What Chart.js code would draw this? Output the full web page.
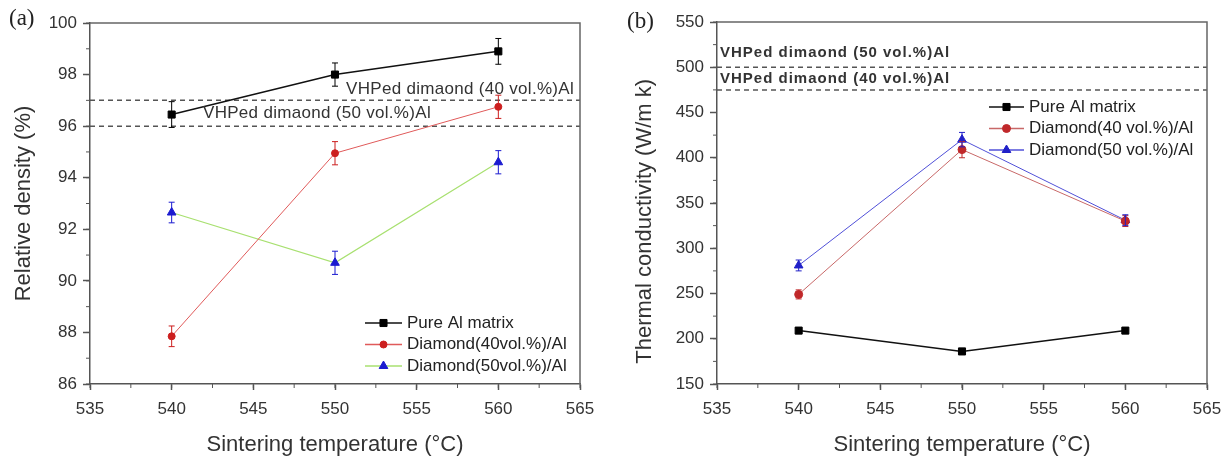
<!DOCTYPE html>
<html>
<head>
<meta charset="utf-8">
<script src="https://cdn.jsdelivr.net/npm/chart.js@4.4.1/dist/chart.umd.min.js"></script>
<style>
    html, body { margin: 0; padding: 0; background: #fff; }
    #contenedor { position: relative; width: 1224px; height: 458px; overflow: hidden; }
    .panel { position: absolute; top: 0; width: 612px; height: 458px; }
    .etiqueta { position: absolute; font-family: "Liberation Serif", "DejaVu Serif", serif; font-size: 23px; color: #222; }
</style>
</head>
<body>
<div id="contenedor">
    <div class="panel" style="left:0"><canvas id="grafica-a" width="612" height="458"></canvas></div>
    <div class="panel" style="left:612px"><canvas id="grafica-b" width="612" height="458"></canvas></div>
    <div class="etiqueta" style="left:9px;top:5px">(a)</div>
    <div class="etiqueta" style="left:627px;top:8px">(b)</div>
</div>
<script>
// temperaturas de sinterizado (°C)
const temperaturas = [540, 550, 560];

// (a) densidad relativa (%)
const densidadPuro = [96.45, 98.0, 98.9];
const densidadPuroErr = [0.5, 0.45, 0.5];
const densidad40 = [87.85, 94.95, 96.75];
const densidad40Err = [0.4, 0.45, 0.45];
const densidad50 = [92.65, 90.7, 94.6];
const densidad50Err = [0.4, 0.45, 0.45];
const refDensidad = [97, 96];
const refDensidadTxt = ['VHPed dimaond (40 vol.%)Al', 'VHPed dimaond (50 vol.%)Al'];
const nombresA = ['Pure Al matrix', 'Diamond(40vol.%)/Al', 'Diamond(50vol.%)/Al'];

// (b) conductividad termica (W/m k)
const conductPuro = [209, 186, 209];
const conductPuroErr = [3, 3, 3];
const conduct40 = [249, 409, 330];
const conduct40Err = [5, 9, 6];
const conduct50 = [281, 420, 331];
const conduct50Err = [6, 8, 6];
const refConduct = [500, 475];
const refConductTxt = ['VHPed dimaond (50 vol.%)Al', 'VHPed dimaond (40 vol.%)Al'];
const nombresB = ['Pure Al matrix', 'Diamond(40 vol.%)/Al', 'Diamond(50 vol.%)/Al'];

Chart.defaults.font.family = '"Liberation Sans", Arial, sans-serif';
Chart.defaults.color = '#333';

const puntos = (vals) => temperaturas.map((t, i) => ({ x: t, y: vals[i] }));

// errores, lineas de referencia, marco, ticks menores y leyenda
const extras = {
    id: 'extras',
    afterDatasetsDraw(chart, args, opts) {
        const ctx = chart.ctx;
        const x = chart.scales.x, y = chart.scales.y;
        const area = chart.chartArea;
        ctx.save();

        // barras de error
        opts.errores.forEach((errs, d) => {
            const ds = chart.data.datasets[d];
            ctx.strokeStyle = ds.pointBorderColor;
            ctx.lineWidth = 1;
            ds.data.forEach((p, i) => {
                const px = x.getPixelForValue(p.x);
                const y1 = y.getPixelForValue(p.y + errs[i]);
                const y2 = y.getPixelForValue(p.y - errs[i]);
                ctx.beginPath();
                ctx.moveTo(px, y1); ctx.lineTo(px, y2);
                ctx.moveTo(px - 3, y1); ctx.lineTo(px + 3, y1);
                ctx.moveTo(px - 3, y2); ctx.lineTo(px + 3, y2);
                ctx.stroke();
            });
        });

        // textos de referencia
        ctx.fillStyle = '#333';
        ctx.textBaseline = 'middle';
        ctx.font = opts.refFuente;
        if ('letterSpacing' in ctx) ctx.letterSpacing = opts.refEspacio;
        opts.refs.forEach((r) => {
            ctx.textAlign = r.align;
            ctx.fillText(r.txt, r.px, y.getPixelForValue(r.v) + r.dy);
        });
        if ('letterSpacing' in ctx) ctx.letterSpacing = '0px';

        // marco
        ctx.strokeStyle = '#666';
        ctx.lineWidth = 1.5;
        ctx.beginPath();
        ctx.moveTo(area.left, area.top); ctx.lineTo(area.right, area.top); ctx.lineTo(area.right, area.bottom);
        ctx.stroke();

        // ticks menores
        ctx.lineWidth = 1;
        ctx.strokeStyle = '#555';
        ctx.beginPath();
        for (let v = x.min; v <= x.max; v += opts.menorX) {
            const px = x.getPixelForValue(v);
            ctx.moveTo(px, area.bottom); ctx.lineTo(px, area.bottom + 4);
        }
        for (let v = y.min; v <= y.max; v += opts.menorY) {
            const py = y.getPixelForValue(v);
            ctx.moveTo(area.left, py); ctx.lineTo(area.left - 4, py);
        }
        ctx.stroke();

        // leyenda
        const ley = opts.leyenda;
        ctx.font = '17px "Liberation Sans", Arial, sans-serif';
        ctx.textAlign = 'left';
        ley.indices.forEach((d, i) => {
            const ds = chart.data.datasets[d];
            const py = ley.y + i * ley.dy;
            ctx.strokeStyle = ds.borderColor;
            ctx.lineWidth = 1.5;
            ctx.beginPath();
            ctx.moveTo(ley.x, py); ctx.lineTo(ley.x + ley.ancho, py);
            ctx.stroke();
            ctx.fillStyle = ds.pointBackgroundColor;
            ctx.strokeStyle = ds.pointBorderColor;
            ctx.lineWidth = 1;
            Chart.helpers.drawPoint(ctx, { pointStyle: ds.pointStyle, radius: ds.pointRadius, rotation: 0, borderWidth: 1 }, ley.x + ley.ancho / 2, py);
            ctx.fillStyle = '#222';
            ctx.fillText(ds.label, ley.x + ley.ancho + 5, py);
        });
        ctx.restore();
    }
};

function serie(nombre, vals, linea, marca, estilo, radio, grosor) {
    return {
        label: nombre,
        data: puntos(vals),
        showLine: true,
        borderColor: linea,
        borderWidth: grosor,
        pointStyle: estilo,
        pointRadius: radio,
        pointBackgroundColor: marca,
        pointBorderColor: marca,
        pointBorderWidth: 1
    };
}

function referencia(valor) {
    return {
        label: 'ref',
        data: [{ x: 535, y: valor }, { x: 565, y: valor }],
        showLine: true,
        borderColor: '#555',
        borderWidth: 1.5,
        borderDash: [5, 4],
        pointRadius: 0
    };
}

function escalas(yMin, yMax, yPaso, yTitulo, anchoY, tituloPad) {
    return {
        x: {
            type: 'linear', min: 535, max: 565,
            ticks: { stepSize: 5, font: { size: 17 }, padding: 9, maxRotation: 0 },
            grid: { drawOnChartArea: false, tickLength: 6, color: '#555', tickWidth: 1.5 },
            border: { color: '#555', width: 1.5 },
            title: { display: true, text: 'Sintering temperature (°C)', font: { size: 22 }, color: '#333', padding: { top: 0, bottom: 0 } },
            afterFit(s) { s.height = 74; s.paddingLeft = 0; s.paddingRight = 0; }
        },
        y: {
            type: 'linear', min: yMin, max: yMax,
            ticks: { stepSize: yPaso, font: { size: 17 }, padding: 6 },
            grid: { drawOnChartArea: false, tickLength: 7, color: '#555', tickWidth: 1.5 },
            border: { color: '#555', width: 1.5 },
            title: { display: true, text: yTitulo, font: { size: 22 }, color: '#333', padding: { top: tituloPad, bottom: 0 } },
            afterFit(s) { s.width = anchoY; }
        }
    };
}

// panel (a)
new Chart(document.getElementById('grafica-a'), {
    type: 'scatter',
    data: {
        datasets: [
            serie(nombresA[0], densidadPuro, '#111', '#000', 'rect', 5, 1.5),
            serie(nombresA[1], densidad40, '#e05a5a', '#cc1f1f', 'circle', 3.5, 1),
            serie(nombresA[2], densidad50, '#a8e070', '#1b1bd0', 'triangle', 5, 1.2),
            referencia(refDensidad[0]),
            referencia(refDensidad[1])
        ]
    },
    options: {
        responsive: false,
        animation: false,
        layout: { padding: { left: 0, right: 32, top: 23, bottom: 0 } },
        scales: escalas(86, 100, 2, 'Relative density (%)', 90, 11),
        plugins: {
            legend: { display: false },
            tooltip: { enabled: false },
            extras: {
                errores: [densidadPuroErr, densidad40Err, densidad50Err],
                refFuente: '17px "Liberation Sans", Arial, sans-serif',
                refEspacio: '0.3px',
                refs: [
                    { txt: refDensidadTxt[0], v: refDensidad[0], px: 574, align: 'right', dy: -11 },
                    { txt: refDensidadTxt[1], v: refDensidad[1], px: 203, align: 'left', dy: -13 }
                ],
                menorX: 2.5,
                menorY: 1,
                leyenda: { x: 365, y: 323, dy: 21.5, ancho: 37, indices: [0, 1, 2] }
            }
        }
    },
    plugins: [extras]
});

// panel (b)
new Chart(document.getElementById('grafica-b'), {
    type: 'scatter',
    data: {
        datasets: [
            serie(nombresB[0], conductPuro, '#111', '#000', 'rect', 5, 1.5),
            serie(nombresB[1], conduct40, '#c86868', '#c0282a', 'circle', 4, 1),
            serie(nombresB[2], conduct50, '#5050d8', '#2020c8', 'triangle', 5, 1),
            referencia(refConduct[0]),
            referencia(refConduct[1])
        ]
    },
    options: {
        responsive: false,
        animation: false,
        layout: { padding: { left: 0, right: 17, top: 22, bottom: 0 } },
        scales: escalas(150, 550, 50, 'Thermal conductivity (W/m k)      ', 105, 20),
        plugins: {
            legend: { display: false },
            tooltip: { enabled: false },
            extras: {
                errores: [conductPuroErr, conduct40Err, conduct50Err],
                refFuente: 'bold 15px "Liberation Sans", Arial, sans-serif',
                refEspacio: '1px',
                refs: [
                    { txt: refConductTxt[0], v: refConduct[0], px: 108, align: 'left', dy: -14 },
                    { txt: refConductTxt[1], v: refConduct[1], px: 108, align: 'left', dy: -11 }
                ],
                menorX: 2.5,
                menorY: 25,
                leyenda: { x: 377, y: 107, dy: 21.5, ancho: 35, indices: [0, 1, 2] }
            }
        }
    },
    plugins: [extras]
});
</script>
</body>
</html>
